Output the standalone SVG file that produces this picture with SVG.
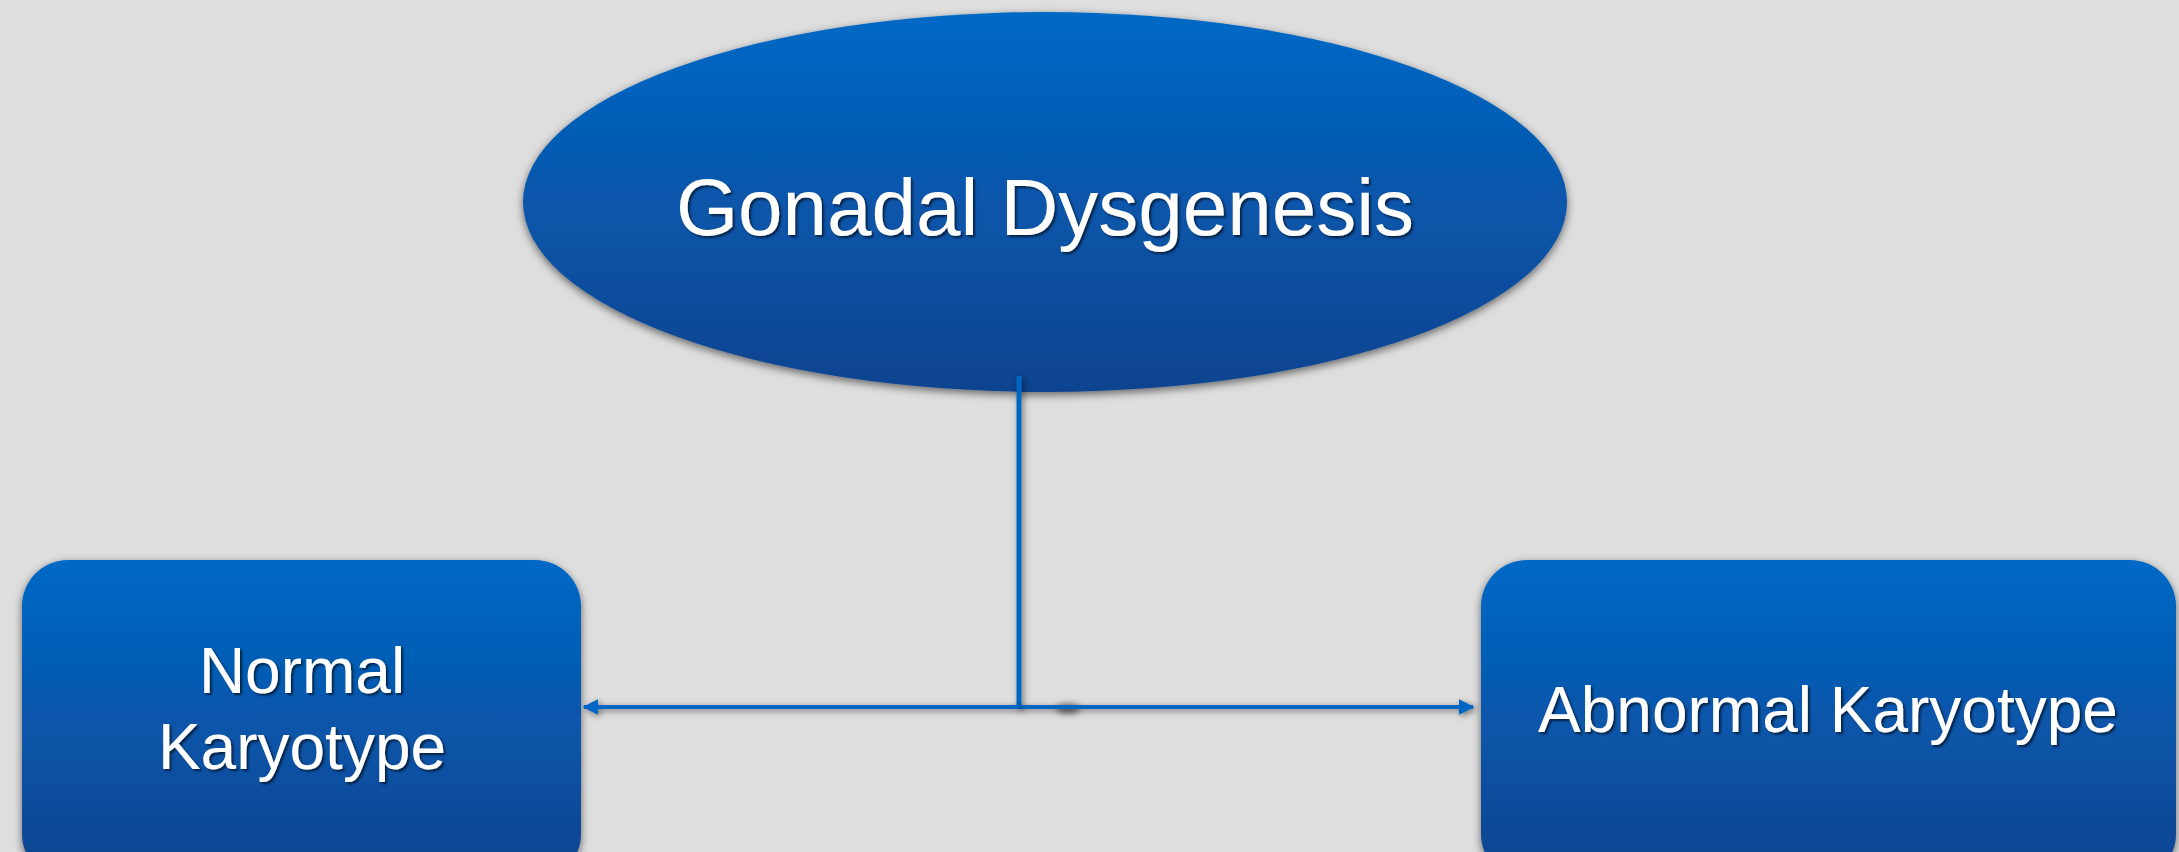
<svg xmlns="http://www.w3.org/2000/svg" width="2179" height="852" viewBox="0 0 2179 852">
<defs>
<linearGradient id="g" x1="0" y1="0" x2="0" y2="1">
<stop offset="0" stop-color="#0469C6"/>
<stop offset="1" stop-color="#0A438F"/>
</linearGradient>
<filter id="sh" x="-10%" y="-10%" width="120%" height="130%">
<feDropShadow dx="0" dy="3" stdDeviation="4" flood-color="#000" flood-opacity="0.55"/>
</filter>
<filter id="lsh" filterUnits="userSpaceOnUse" x="0" y="0" width="2179" height="852">
<feDropShadow dx="2" dy="2" stdDeviation="3" flood-color="#000" flood-opacity="0.5"/>
</filter>
<filter id="tsh" x="-5%" y="-20%" width="110%" height="140%">
<feDropShadow dx="2" dy="2" stdDeviation="1.2" flood-color="#000" flood-opacity="0.6"/>
</filter>
<filter id="blur" filterUnits="userSpaceOnUse" x="1040" y="690" width="60" height="40"><feGaussianBlur stdDeviation="3"/></filter>
<marker id="arr" viewBox="0 0 10 10" refX="9" refY="5" markerWidth="4" markerHeight="4" orient="auto-start-reverse" markerUnits="strokeWidth">
<path d="M0,0 L10,5 L0,10 Z" fill="#0566C4"/>
</marker>
</defs>
<style>
.node{fill:url(#g);filter:url(#sh)}
.lbl{font-family:"Liberation Sans",Arial,sans-serif;fill:#FFFFFF;text-anchor:middle;filter:url(#tsh)}
.conn{stroke:#0566C4;fill:none;filter:url(#lsh)}
</style>
<rect width="2179" height="852" fill="#DEDEDE"/>
<g id="gonadal-dysgenesis">
<ellipse class="node" cx="1045" cy="202" rx="522" ry="190"/>
<text class="lbl" x="1045" y="235" font-size="80">Gonadal Dysgenesis</text>
</g>
<g id="normal-karyotype">
<rect class="node" x="22" y="560" width="559" height="320" rx="46" ry="46"/>
<text class="lbl" x="302" y="693" font-size="64">Normal</text>
<text class="lbl" x="302" y="769" font-size="64">Karyotype</text>
</g>
<g id="abnormal-karyotype">
<rect class="node" x="1481" y="560" width="695" height="320" rx="46" ry="46"/>
<text class="lbl" x="1828" y="732" font-size="64">Abnormal Karyotype</text>
</g>
<g id="connectors">
<ellipse cx="1068" cy="709" rx="12" ry="5" fill="#555" filter="url(#blur)" opacity="0.8"/>
<line class="conn" x1="1019" y1="376" x2="1019" y2="709" stroke-width="5"/>
<line class="conn" x1="1019" y1="707" x2="1473" y2="707" stroke-width="4" marker-end="url(#arr)"/>
<line class="conn" x1="584" y1="707" x2="1019" y2="707" stroke-width="4" marker-start="url(#arr)"/>
</g>
</svg>
